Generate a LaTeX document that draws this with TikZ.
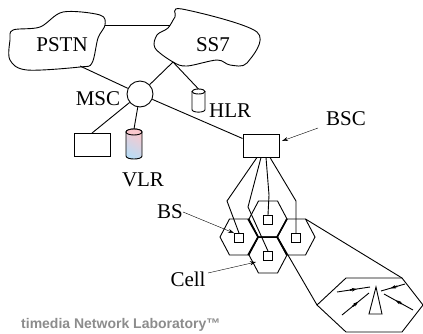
\documentclass[tikz,border=0pt]{standalone}
\usepackage{fontspec}
\setmainfont{Liberation Serif}
\newfontfamily\footfont{Liberation Sans}
\usetikzlibrary{arrows.meta,decorations.markings}
\definecolor{footgray}{RGB}{140,140,140}
\definecolor{vlrpink}{RGB}{250,200,205}
\definecolor{vlrblue}{RGB}{185,220,245}
\tikzset{
  lbl/.style={inner sep=0pt,font=\fontsize{21}{21}\selectfont},
  tip/.style={draw,-{Stealth[length=6pt,width=4pt]}},
  wire/.style={draw,line width=0.9pt},
  box/.style={draw,line width=0.9pt,rectangle,minimum width=36pt,minimum height=23pt,inner sep=0pt},
  cellbox/.style={draw,line width=0.9pt,rectangle,minimum size=9pt,inner sep=0pt},
  beam/.style={draw,line width=0.9pt,postaction={decorate},decoration={markings,
    mark=at position 0.6 with {\draw[line width=1.6pt,-{Stealth[length=5pt,width=3.5pt]}] (-7pt,0) -- (0,0);}}},
  hexcell/.pic={\path[draw,line width=0.9pt] (-9.5,-18) -- (9.5,-18) -- (19,0) -- (9.5,18) -- (-9.5,18) -- (-19,0) -- cycle;}
}
\begin{document}
\begin{tikzpicture}[x=1pt,y=-1pt]
\useasboundingbox (0,0) rectangle (423,333);

% clouds
\path[draw,line width=0.9pt] plot[smooth cycle,tension=0.55] coordinates {(105,25) (98,38) (92,63) (80,67) (27,70) (10,60) (10,40) (13,30) (40,27) (63,12) (100,15)};
\path[draw,line width=0.9pt] plot[smooth cycle,tension=0.55] coordinates {(182,9) (257,32) (247,63) (230,65) (217,60) (187,66) (173,62) (155,48) (157,35) (168,28) (175,17)};
\coordinate (pstnout) at (105,25.5);
\coordinate (pstnlow) at (80,66);
\coordinate (ssin) at (170,25.5);
\coordinate (sslow) at (173,62);

% databases
\path[draw,line width=0.9pt] (192,91.5) -- (192,109.5) .. controls (192,113) and (205,113) .. (205,109.5) -- (205,91.5);
\path[draw,line width=0.9pt] (198.5,91.5) ellipse [x radius=6.5,y radius=2.5];
\path[draw,line width=0.9pt,shading=axis,left color=vlrpink,right color=vlrblue,shading angle=-30] (126,132) -- (126,156) .. controls (126,160) and (142,160) .. (142,156) -- (142,132) .. controls (142,128) and (126,128) .. (126,132) -- cycle;
\path[draw,line width=0.9pt,fill=vlrpink] (134,132) ellipse [x radius=8,y radius=3];
\coordinate (hlrtop) at (198.5,89);
\coordinate (vlrtop) at (134,129);

\node[lbl] (pstn) at (62,45) {PSTN};
\node[lbl] (ss7) at (213,45) {SS7};
\node[draw,circle,line width=0.9pt,minimum size=26pt,inner sep=0pt,fill=white] (msc) at (140,94) {};
\node[lbl] (msclbl) at (98,99) {MSC};
\node[lbl,anchor=west] (hlrlbl) at (209,111) {HLR};
\node[box] (sw) at (92,145) {};
\node[lbl] (vlrlbl) at (143,180) {VLR};
\node[box] (bsc) at (261,145.5) {};
\node[lbl] (bsclbl) at (346,119) {BSC};
\node[lbl] (bslbl) at (170,212) {BS};
\node[lbl] (celllbl) at (188,279) {Cell};

% cells
\pic at (239,237) {hexcell};
\pic at (296,237) {hexcell};
\pic at (268,219) {hexcell};
\pic at (268,255) {hexcell};
\path[draw,line width=1.5pt] (248,219) -- (258,237) -- (248,255);
\path[draw,line width=1.5pt] (258,237) -- (277,237) -- (287,219);
\path[draw,line width=1.5pt] (277,237) -- (287,255);
\node[cellbox] (cl) at (239,238) {};
\node[cellbox] (ct) at (268,220) {};
\node[cellbox] (cr) at (296,238) {};
\node[cellbox] (cb) at (268,256) {};

% big cell
\coordinate (bigl) at (317,305);
\coordinate (bigtr) at (402,278);
\path[draw,line width=0.9pt] (bigl) -- (346,278) -- (bigtr) -- (423,305) -- (402,332) -- (346,332) -- cycle;
\coordinate (cellne) at (305.5,219);
\coordinate (cellin) at (277.5,237);
\path[draw,line width=0.9pt] (376,287) -- (382,314) -- (369,314) -- cycle;

\path[wire] (pstnout) -- (ssin);
\path[wire] (pstnlow) -- (msc);
\path[wire] (sslow) -- (msc);
\path[wire] (sslow) -- (hlrtop);
\path[wire] (msc) -- (sw.north);
\path[wire] (msc) -- (vlrtop);
\path[wire] (msc) -- ([yshift=7pt]bsc.west);

\path[wire] ([xshift=-4pt]bsc.south) -- (227,201) -- (cl.north);
\path[wire] (bsc.south) -- (248,207) -- (cb.north);
\path[wire] ([xshift=5pt]bsc.south) -- (269,195) -- (ct.north);
\path[wire] ([xshift=9pt]bsc.south) -- (296,201) -- (cr.north);

\path[wire] (cellne) -- (bigtr);
\path[wire] (cellin) -- (bigl);

\coordinate (bsctip) at (282,141);
\coordinate (celltip) at (256,262);
\path[tip] (318,128) -- (bsctip);
\path[tip] (bslbl.east) -- (cl.north west);
\path[tip] (208,273) -- (celltip);

% beams
\path[beam] (337,292) -- (370,287);
\path[beam] (405,284) -- (381,291);
\path[beam] (342,315) -- (369,293);
\path[beam] (413,310) -- (384,294);

\node[anchor=west,inner sep=0pt,text=footgray,font=\footfont\bfseries\fontsize{14}{14}\selectfont] (foot) at (21,325) {timedia Network Laboratory™};
\end{tikzpicture}
\end{document}
